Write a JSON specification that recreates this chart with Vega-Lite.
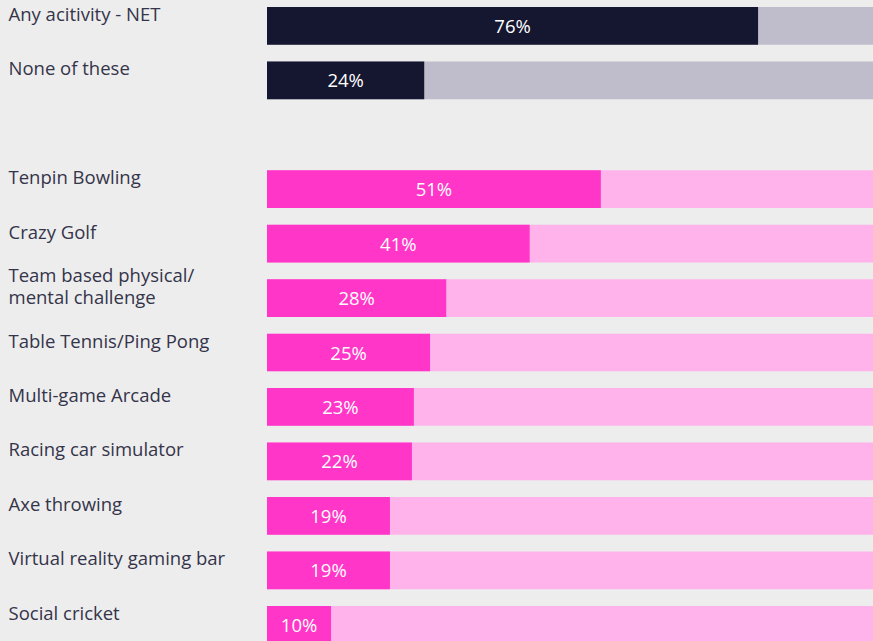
{
  "$schema": "https://vega.github.io/schema/vega-lite/v6.json",
  "width": 606,
  "height": 634,
  "autosize": "none",
  "padding": {"left": 267, "top": 7, "right": 0, "bottom": 0},
  "background": "#ededed",
  "config": {"view": {"stroke": null}, "font": "Open Sans"},
  "data": {
    "values": [
      {"activity": "Any acitivity - NET", "group": "net", "pct": 75.9, "label": "76%"},
      {"activity": "None of these", "group": "net", "pct": 24.3, "label": "24%"},
      {"activity": "Tenpin Bowling", "group": "act", "pct": 51.6, "label": "51%"},
      {"activity": "Crazy Golf", "group": "act", "pct": 40.6, "label": "41%"},
      {"activity": "Team based physical/ mental challenge", "group": "act", "pct": 27.7, "label": "28%"},
      {"activity": "Table Tennis/Ping Pong", "group": "act", "pct": 25.2, "label": "25%"},
      {"activity": "Multi-game Arcade", "group": "act", "pct": 22.7, "label": "23%"},
      {"activity": "Racing car simulator", "group": "act", "pct": 22.4, "label": "22%"},
      {"activity": "Axe throwing", "group": "act", "pct": 19.0, "label": "19%"},
      {"activity": "Virtual reality gaming bar", "group": "act", "pct": 19.0, "label": "19%"},
      {"activity": "Social cricket", "group": "act", "pct": 9.9, "label": "10%"}
    ]
  },
  "encoding": {
    "y": {
      "field": "activity",
      "type": "nominal",
      "scale": {
        "domain": ["Any acitivity - NET", "None of these", " ", "Tenpin Bowling", "Crazy Golf", "Team based physical/ mental challenge", "Table Tennis/Ping Pong", "Multi-game Arcade", "Racing car simulator", "Axe throwing", "Virtual reality gaming bar", "Social cricket"],
        "range": [0, 636.6],
        "paddingInner": 0.3076,
        "paddingOuter": 0
      },
      "axis": {
        "title": null,
        "ticks": false,
        "domain": false,
        "grid": false,
        "labelAlign": "left",
        "labelPadding": 259,
        "labelFont": "Open Sans",
        "labelFontSize": 18.5,
        "labelColor": "#34344a",
        "labelBaseline": "middle",
        "labelOffset": {"condition": {"test": "indexof(datum.value, '/ ') > 0", "value": -22.5}, "value": -11}, 
        "labelLineHeight": 22,
        "labelLimit": 255,
        "labelExpr": "indexof(datum.label, '/ ') > 0 ? [slice(datum.label, 0, indexof(datum.label, '/ ') + 1), slice(datum.label, indexof(datum.label, '/ ') + 2)] : datum.label"
      }
    }
  },
  "layer": [
    {
      "mark": {"type": "bar"},
      "encoding": {
        "x": {"datum": 100, "type": "quantitative", "scale": {"domain": [0, 100], "range": [0, 647]}, "axis": null},
        "color": {"condition": {"test": "datum.group === 'net'", "value": "#bfbdcb"}, "value": "#ffb3ea"}
      }
    },
    {
      "mark": {"type": "bar"},
      "encoding": {
        "x": {"field": "pct", "type": "quantitative"},
        "color": {"condition": {"test": "datum.group === 'net'", "value": "#15162f"}, "value": "#ff36c8"}
      }
    },
    {
      "transform": [{"calculate": "datum.pct / 2", "as": "mid"}],
      "mark": {"type": "text", "color": "#ffffff", "fontSize": 18.5, "font": "Open Sans", "baseline": "middle", "align": "center", "dy": 1},
      "encoding": {
        "x": {"field": "mid", "type": "quantitative"},
        "text": {"field": "label"}
      }
    }
  ]
}
